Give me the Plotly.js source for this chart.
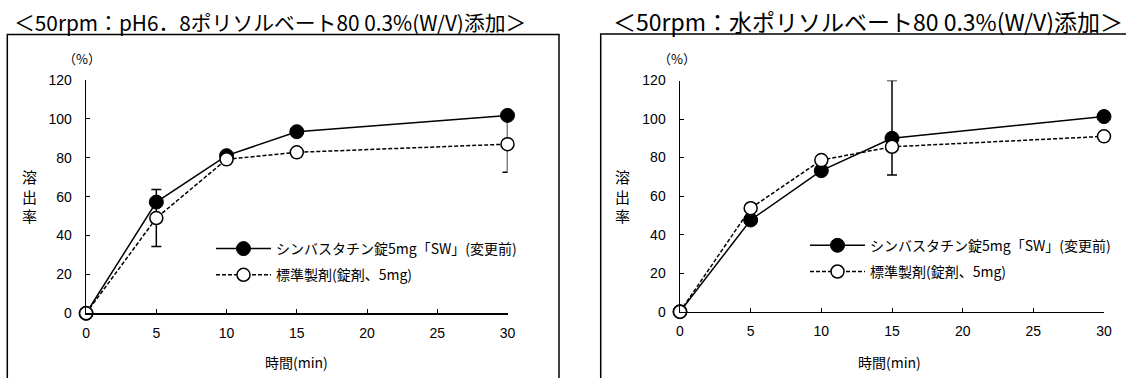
<!DOCTYPE html>
<html><head><meta charset="utf-8">
<script src="https://cdn.plot.ly/plotly-3.0.1.min.js"></script>
<style>html,body{margin:0;padding:0;background:#fff}#chart{width:1126px;height:378px}</style>
</head><body><div id="chart"></div>
<script>
// ---- data ----
const timeMin = [0, 5, 10, 15, 30];
const xTicks = [0, 5, 10, 15, 20, 25, 30];
const yTicks = [0, 20, 40, 60, 80, 100, 120];
const seriesNames = ['シンバスタチン錠5mg「SW」(変更前)', '標準製剤(錠剤、5mg)'];
const panelTitles = ['＜50rpm：pH6．8ポリソルベート80 0.3%(W/V)添加＞', '＜50rpm：水ポリソルベート80 0.3%(W/V)添加＞'];
const yTitle = '溶<br>出<br>率';
const yUnit = '（%）';
const xTitle = '時間(min)';

// left panel: pH6.8 + polysorbate 80
const leftTest = [0, 57.2, 81.1, 93.4, 101.8];
const leftTestErrUp = [0, 0, 0, 0, 0];
const leftTestErrDown = [0, 0, 0, 0, 0];
const leftRef = [0, 49.0, 79.2, 82.8, 87.0];
const leftRefErrUp = [0, 14.7, 0, 0, 14.4];
const leftRefErrDown = [0, 14.7, 0, 0, 14.4];

// right panel: water + polysorbate 80
const rightTest = [0, 47.6, 73.2, 90.0, 101.3];
const rightTestErrUp = [0, 0, 0, 30.0, 0];
const rightTestErrDown = [0, 0, 0, 0, 0];
const rightRef = [0, 53.7, 78.7, 85.6, 91.0];
const rightRefErrUp = [0, 0, 0, 0, 0];
const rightRefErrDown = [0, 0, 0, 14.7, 0];

// ---- styling ----
const JP = '"Noto Sans CJK JP", "Noto Sans", sans-serif';
const NUM = '"Liberation Sans", Arial, sans-serif';
const W = 1126, H = 378;
const px = v => v / W;
const py = v => (H - v) / H;

function errY(up, down) {
  return {type: 'data', symmetric: false, array: up, arrayminus: down,
          color: '#000', thickness: 1.5, width: 5};
}
function testTrace(y, up, down, xa, ya, leg) {
  return {
    x: timeMin, y: y, name: seriesNames[0], type: 'scatter', mode: 'lines+markers',
    xaxis: xa, yaxis: ya, legend: leg, legendgroup: 'test', cliponaxis: false,
    line: {color: '#000', width: 1.5},
    marker: {symbol: 'circle', size: 14, color: '#000', line: {color: '#000', width: 1}},
    error_y: errY(up, down)
  };
}
function refTrace(y, up, down, xa, ya, leg) {
  return {
    x: timeMin, y: y, name: seriesNames[1], type: 'scatter', mode: 'lines+markers',
    xaxis: xa, yaxis: ya, legend: leg, legendgroup: 'ref', cliponaxis: false,
    line: {color: '#000', width: 1.5, dash: '4px,2px'},
    marker: {symbol: 'circle', size: 13, color: '#fff', line: {color: '#000', width: 1.5}},
    error_y: errY(up, down)
  };
}

const data = [
  testTrace(leftTest, leftTestErrUp, leftTestErrDown, 'x', 'y', 'legend'),
  refTrace(leftRef, leftRefErrUp, leftRefErrDown, 'x', 'y', 'legend'),
  testTrace(rightTest, rightTestErrUp, rightTestErrDown, 'x2', 'y2', 'legend2'),
  refTrace(rightRef, rightRefErrUp, rightRefErrDown, 'x2', 'y2', 'legend2')
];

function xax(domain, anchor) {
  return {domain: domain, anchor: anchor, range: [0, 30], tickmode: 'array', tickvals: xTicks,
    ticks: 'inside', ticklen: 4, tickwidth: 1, tickcolor: '#000', showline: true, linecolor: '#000',
    linewidth: 1.5, showgrid: false, zeroline: false, fixedrange: true, ticklabelstandoff: 6,
    tickfont: {family: NUM, size: 14, color: '#000'}};
}
function yax(domain, anchor) {
  return {domain: domain, anchor: anchor, range: [0, 120], tickmode: 'array', tickvals: yTicks,
    ticks: 'inside', ticklen: 4, tickwidth: 1, tickcolor: '#000', showline: true, linecolor: '#000',
    linewidth: 1.5, showgrid: false, zeroline: false, fixedrange: true, ticklabelstandoff: 10,
    tickfont: {family: NUM, size: 14, color: '#000'}};
}

const legendCommon = {xanchor: 'left', yanchor: 'middle', bgcolor: 'rgba(0,0,0,0)', borderwidth: 0,
  font: {family: JP, size: 14, color: '#000'}, itemwidth: 55,
  traceorder: 'grouped', tracegroupgap: 5, itemclick: false, itemdoubleclick: false};

function ann(text, x, y, size) {
  return {text: text, xref: 'paper', yref: 'paper', x: px(x), y: py(y), xanchor: 'center', yanchor: 'middle',
          showarrow: false, font: {family: JP, size: size, color: '#000'}};
}

const layout = {
  width: W, height: H, margin: {l: 0, r: 0, t: 0, b: 0}, paper_bgcolor: '#fff', plot_bgcolor: 'rgba(0,0,0,0)',
  showlegend: true,
  xaxis: xax([px(86.1), px(507.5)], 'y'),
  yaxis: yax([py(313.3), py(80)], 'x'),
  xaxis2: xax([px(680), px(1104)], 'y2'),
  yaxis2: yax([py(311.7), py(80.5)], 'x2'),
  legend: Object.assign({}, legendCommon, {x: px(211), y: py(262)}),
  legend2: Object.assign({}, legendCommon, {x: px(805), y: py(258.7)}),
  shapes: [
    {type: 'rect', xref: 'paper', yref: 'paper', x0: px(7.3), x1: px(559), y0: -0.1, y1: py(34.5),
     line: {color: '#000', width: 1.5}, fillcolor: 'rgba(0,0,0,0)'},
    {type: 'rect', xref: 'paper', yref: 'paper', x0: px(600.7), x1: 1.1, y0: -0.1, y1: py(34),
     line: {color: '#000', width: 1.5}, fillcolor: 'rgba(0,0,0,0)'}
  ],
  annotations: [
    {text: panelTitles[0], xref: 'paper', yref: 'paper', x: px(12), y: py(22), xanchor: 'left', yanchor: 'middle',
     showarrow: false, font: {family: JP, size: 20.8, color: '#000'}},
    {text: panelTitles[1], xref: 'paper', yref: 'paper', x: px(611), y: py(21), xanchor: 'left', yanchor: 'middle',
     showarrow: false, font: {family: JP, size: 23, color: '#000'}},
    ann(yUnit, 82, 58, 13),
    ann(yUnit, 677, 58, 13),
    ann(yTitle, 29, 196, 15),
    ann(yTitle, 622, 196, 15),
    ann(xTitle, 296, 362, 14),
    ann(xTitle, 889, 362, 14)
  ]
};

Plotly.newPlot('chart', data, layout, {staticPlot: true, displayModeBar: false});
</script>
</body></html>
